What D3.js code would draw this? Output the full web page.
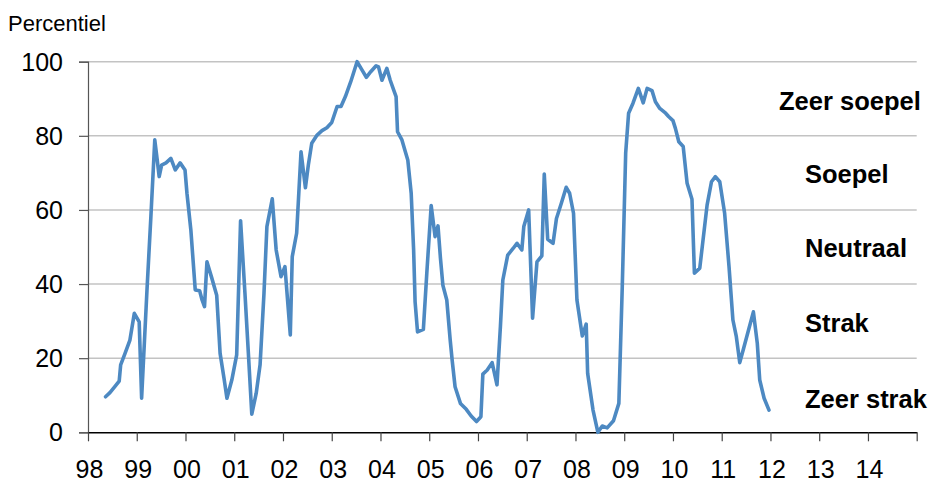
<!DOCTYPE html>
<html>
<head>
<meta charset="utf-8">
<script src="https://cdn.jsdelivr.net/npm/d3@7"></script>
<style>
  html, body { margin: 0; padding: 0; background: #fff; }
  svg { display: block; font-family: "Liberation Sans", Arial, sans-serif; }
</style>
</head>
<body>
<svg id="chart" width="931" height="483"></svg>
<script>
// ---- data ----
const dates = [1998.36,1998.45,1998.55,1998.64,1998.67,1998.76,1998.86,1998.95,1999.05,1999.10,
  1999.21,1999.29,1999.37,1999.42,1999.46,1999.51,1999.60,1999.70,1999.79,1999.89,
  1999.99,2000.03,2000.11,2000.20,2000.29,2000.34,2000.39,2000.44,2000.54,2000.64,
  2000.71,2000.79,2000.85,2000.95,2001.05,2001.13,2001.22,2001.29,2001.36,2001.45,
  2001.53,2001.61,2001.67,2001.78,2001.86,2001.96,2002.04,2002.15,2002.19,2002.28,
  2002.37,2002.46,2002.52,2002.59,2002.70,2002.80,2002.90,2003.00,2003.11,2003.19,
  2003.28,2003.39,2003.52,2003.62,2003.71,2003.80,2003.91,2003.96,2004.03,2004.13,
  2004.20,2004.27,2004.32,2004.35,2004.44,2004.51,2004.56,2004.63,2004.68,2004.71,
  2004.76,2004.88,2004.95,2005.04,2005.12,2005.18,2005.23,2005.28,2005.36,2005.43,
  2005.47,2005.53,2005.64,2005.76,2005.86,2005.97,2006.06,2006.10,2006.19,2006.29,
  2006.39,2006.46,2006.51,2006.61,2006.72,2006.80,2006.90,2006.94,2007.04,2007.12,
  2007.21,2007.31,2007.36,2007.43,2007.54,2007.61,2007.71,2007.81,2007.88,2007.96,
  2008.03,2008.14,2008.22,2008.25,2008.36,2008.46,2008.55,2008.65,2008.78,2008.89,
  2008.96,2009.03,2009.09,2009.18,2009.29,2009.39,2009.47,2009.57,2009.64,2009.73,
  2009.85,2009.91,2010.00,2010.05,2010.12,2010.21,2010.29,2010.39,2010.44,2010.55,
  2010.70,2010.79,2010.87,2010.96,2011.06,2011.15,2011.23,2011.30,2011.37,2011.45,
  2011.56,2011.65,2011.73,2011.78,2011.87,2011.97];
const values = [9.6,10.7,12.3,13.8,18.2,21.3,24.9,32.1,29.8,9.2,
  38.4,58.2,78.9,73.5,69,72.1,72.7,73.9,70.8,72.7,
  70.8,64.5,54.6,38.4,38.2,35.7,33.9,46,41.6,37,
  21.3,14.6,9.2,14.1,20.9,57.1,37.4,21.3,4.9,10.5,
  18.2,37.5,55.5,63,49.2,42,44.7,26.3,47.4,53.7,
  75.7,66,72.1,78,80.2,81.4,82.2,83.6,87.9,87.9,
  90.6,94.6,100,97.8,95.8,97.3,98.9,98.6,95,98.2,
  95,92.4,90.6,81.1,78.9,75.7,73.5,64.5,49.2,35.2,
  27.1,27.8,42.9,61.2,52.8,55.7,47,39.7,35.7,24.9,
  19.5,12.3,7.8,6.2,4.4,2.9,4.2,15.7,16.8,18.8,
  12.8,28.5,41.1,47.8,49.6,51,49.2,55.5,60,30.8,
  46,47.6,69.7,52.1,51,57.7,61.8,66.1,64.5,59.1,
  35.7,26,29.2,15.9,6,0,1.7,1.2,3.1,7.8,
  39.3,75.3,86.1,88.8,92.8,88.9,92.8,92.2,89.2,87.4,
  86.1,85.2,84.1,82,78.4,77.1,67.2,62.9,42.9,44.3,
  61.3,67.6,69,67.6,59.1,44.7,30.3,25.8,18.8,22.7,
  28.1,32.5,24,14.1,9.2,6];
const years = [1998,1999,2000,2001,2002,2003,2004,2005,2006,2007,2008,2009,2010,2011,2012,2013,2014,2015];
const yearLabels = ["98","99","00","01","02","03","04","05","06","07","08","09","10","11","12","13","14"];
const yTicks = [0,20,40,60,80,100];
const zoneLabels = ["Zeer soepel","Soepel","Neutraal","Strak","Zeer strak"];
const yTitle = "Percentiel";

// ---- layout ----
const svg = d3.select("#chart");
const x = d3.scaleLinear().domain([1998, 2015]).range([88, 916.7]);
const y = d3.scaleLinear().domain([0, 100]).range([432.3, 61.7]);

// gridlines
svg.append("g").selectAll("line").data(yTicks.filter(d => d > 0)).join("line")
  .attr("x1", x(1998)).attr("x2", x(2015))
  .attr("y1", d => y(d)).attr("y2", d => y(d))
  .attr("stroke", "#c3c3c3").attr("stroke-width", 1.4);

// y axis
const yAxis = svg.append("g").attr("transform", `translate(${x(1998)},0)`)
  .call(d3.axisLeft(y).tickValues(yTicks).tickSize(9).tickPadding(16).tickFormat(d3.format("d")));
yAxis.select(".domain").attr("stroke", "#555").attr("stroke-width", 1.2);
yAxis.selectAll(".tick line").attr("stroke", "#555").attr("stroke-width", 1.2);
yAxis.selectAll(".tick text").attr("font-size", "25px").attr("fill", "#000")
  .attr("font-family", "Liberation Sans, Arial, sans-serif").attr("x", -25).attr("dy", "0.34em");

// x axis
const xAxis = svg.append("g").attr("transform", `translate(0,${y(0)})`)
  .call(d3.axisBottom(x).tickValues(years).tickSize(9).tickSizeOuter(0).tickFormat(""));
xAxis.select(".domain").attr("stroke", "#000").attr("stroke-width", 1.4);
xAxis.selectAll(".tick line").attr("stroke", "#444").attr("stroke-width", 1.2);

svg.append("g").selectAll("text").data(yearLabels).join("text")
  .attr("x", (d, i) => x(years[i]) + 1.5)
  .attr("y", 477.5)
  .attr("text-anchor", "middle")
  .attr("font-size", "25px")
  .attr("fill", "#000")
  .text(d => d);

// y title
svg.append("text").attr("x", 8).attr("y", 30.5)
  .attr("font-size", "22px").attr("fill", "#000").text(yTitle);

// zone labels
svg.append("g").selectAll("text").data(zoneLabels).join("text")
  .attr("x", (d, i) => i === 0 ? 779 : 805)
  .attr("y", (d, i) => [110, 183.3, 256.7, 331.7, 408.3][i])
  .attr("font-size", "25.5px").attr("font-weight", "bold").attr("fill", "#000")
  .text(d => d);

// line
const pts = dates.map((d, i) => [d, values[i]]);
svg.append("path").datum(pts)
  .attr("fill", "none")
  .attr("stroke", "#4d89c2")
  .attr("stroke-width", 3.6)
  .attr("stroke-linejoin", "round")
  .attr("stroke-linecap", "round")
  .attr("d", d3.line().x(d => x(d[0])).y(d => y(d[1])));
</script>
</body>
</html>
